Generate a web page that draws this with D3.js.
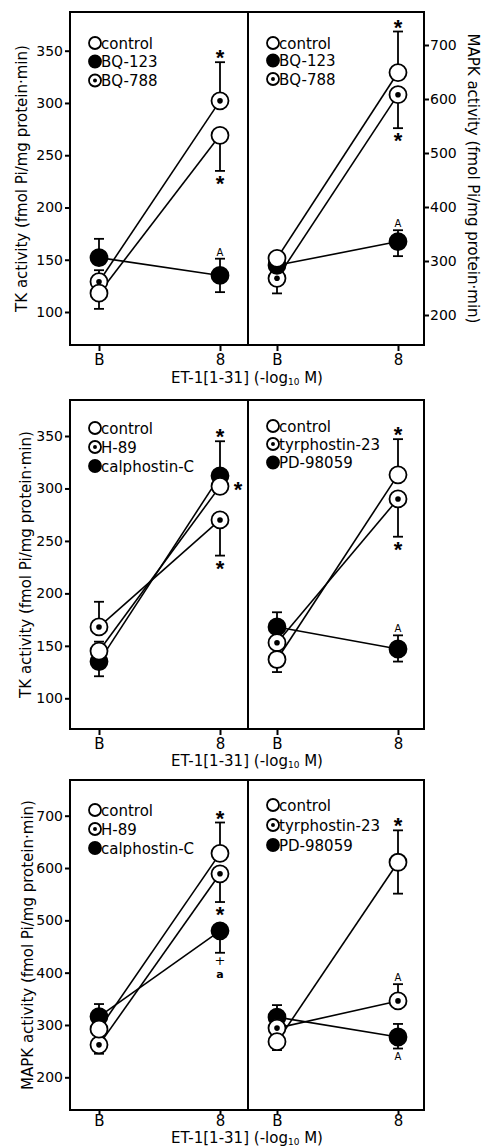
<!DOCTYPE html>
<html>
<head>
<meta charset="utf-8">
<script src="https://cdn.jsdelivr.net/npm/d3@7"></script>
<style>
	body { margin: 0; background: #fff; }
	svg { display: block; font-family: "DejaVu Sans", sans-serif; }
	text { fill: #000; }
</style>
</head>
<body>
<svg width="481" height="1146"></svg>
<script>
// ---- data ----
const doses = [ "B", "8" ];
const tkTicks = [ 100, 150, 200, 250, 300, 350 ];
const mapkTicks = [ 200, 300, 400, 500, 600, 700 ];
const tkLabel = "TK activity (fmol Pi/mg protein\u00b7min)";
const mapkLabel = "MAPK activity (fmol Pi/mg protein\u00b7min)";

// mean at [B, 8]; hi / lo = end of error bar (null = not drawn); notes = significance marks
const tkReceptor = [
	{ name: "control", mark: "open", mean: [ 118, 269 ], hi: [ null, null ], lo: [ 103, 235 ], notes: [ { at: 1, text: "*", side: "lo" } ] },
	{ name: "BQ-123", mark: "filled", mean: [ 152, 135 ], hi: [ 170, 151 ], lo: [ null, 119 ], notes: [ { at: 1, text: "A", side: "hi" } ] },
	{ name: "BQ-788", mark: "dot", mean: [ 129, 302 ], hi: [ 140, 339 ], lo: [ null, null ], notes: [ { at: 1, text: "*", side: "hi" } ] }
];
const mapkReceptor = [
	{ name: "control", mark: "open", mean: [ 305, 649 ], hi: [ 316, 725 ], lo: [ null, null ], notes: [ { at: 1, text: "*", side: "hi" } ] },
	{ name: "BQ-123", mark: "filled", mean: [ 292, 336 ], hi: [ null, 357 ], lo: [ null, 309 ], notes: [ { at: 1, text: "A", side: "hi" } ] },
	{ name: "BQ-788", mark: "dot", mean: [ 268, 608 ], hi: [ null, null ], lo: [ 240, 546 ], notes: [ { at: 1, text: "*", side: "lo" } ] }
];
const tkKinase = [
	{ name: "control", mark: "open", mean: [ 145, 302 ], hi: [ 154, null ], lo: [ null, null ], notes: [ { at: 1, text: "*", side: "right" } ] },
	{ name: "H-89", mark: "dot", mean: [ 168, 270 ], hi: [ 192, null ], lo: [ null, 236 ], notes: [ { at: 1, text: "*", side: "lo" } ] },
	{ name: "calphostin-C", mark: "filled", mean: [ 135, 312 ], hi: [ null, 345 ], lo: [ 121, null ], notes: [ { at: 1, text: "*", side: "hi" } ] }
];
const tkTyrosine = [
	{ name: "control", mark: "open", mean: [ 137, 313 ], hi: [ null, 347 ], lo: [ 125, null ], notes: [ { at: 1, text: "*", side: "hi" } ] },
	{ name: "tyrphostin-23", mark: "dot", mean: [ 153, 290 ], hi: [ null, null ], lo: [ null, 254 ], notes: [ { at: 1, text: "*", side: "lo" } ] },
	{ name: "PD-98059", mark: "filled", mean: [ 168, 147 ], hi: [ 182, 160 ], lo: [ null, 135 ], notes: [ { at: 1, text: "A", side: "hi" } ] }
];
const mapkKinase = [
	{ name: "control", mark: "open", mean: [ 292, 628 ], hi: [ null, 687 ], lo: [ null, null ], notes: [ { at: 1, text: "*", side: "hi" } ] },
	{ name: "H-89", mark: "dot", mean: [ 262, 589 ], hi: [ null, null ], lo: [ 245, 535 ], notes: [ { at: 1, text: "*", side: "lo" } ] },
	{ name: "calphostin-C", mark: "filled", mean: [ 316, 480 ], hi: [ 340, null ], lo: [ null, 438 ], notes: [ { at: 1, text: "+", side: "lo" }, { at: 1, text: "a", side: "lo" } ] }
];
const mapkTyrosine = [
	{ name: "control", mark: "open", mean: [ 268, 611 ], hi: [ null, 672 ], lo: [ 252, 551 ], notes: [ { at: 1, text: "*", side: "hi" } ] },
	{ name: "tyrphostin-23", mark: "dot", mean: [ 294, 346 ], hi: [ null, 378 ], lo: [ null, null ], notes: [ { at: 1, text: "A", side: "hi" } ] },
	{ name: "PD-98059", mark: "filled", mean: [ 315, 277 ], hi: [ 338, 302 ], lo: [ null, 255 ], notes: [ { at: 1, text: "A", side: "lo" } ] }
];

// ---- layout ----
const svg = d3.select( "svg" );
const R = 8.5, CAP = 5;
const rows = [
	{ top: 12, bottom: 345, title: 383, tick: 6, pad: 3 },
	{ top: 400, bottom: 729, title: 766, tick: 6, pad: 3 },
	{ top: 780, bottom: 1110, title: 1143, tick: 4, pad: 1 }
];
const cols = [
	{ x0: 70, x1: 248, range: [ 99, 220 ], legendX: 95 },
	{ x0: 248, x1: 424, range: [ 277, 398 ], legendX: 273 }
];
// y scales calibrated on two tick positions of each axis
const yTK1 = d3.scaleLinear().domain( [ 100, 350 ] ).range( [ 312, 50.7 ] );
const yMAPK1 = d3.scaleLinear().domain( [ 200, 700 ] ).range( [ 315, 45 ] );
const yTK2 = d3.scaleLinear().domain( [ 100, 350 ] ).range( [ 698.3, 436 ] );
const yMAPK3 = d3.scaleLinear().domain( [ 200, 700 ] ).range( [ 1077.3, 815.7 ] );

const panels = [
	{ row: 0, col: 0, series: tkReceptor, y: yTK1, ticks: tkTicks, axis: "left", label: tkLabel, labelX: 27, legendY: [ 43, 61.5, 80.5 ] },
	{ row: 0, col: 1, series: mapkReceptor, y: yMAPK1, ticks: mapkTicks, axis: "right", label: mapkLabel, labelX: 468, legendY: [ 43, 60.5, 79 ] },
	{ row: 1, col: 0, series: tkKinase, y: yTK2, ticks: tkTicks, axis: "left", label: tkLabel, labelX: 31, legendY: [ 428, 447, 466 ] },
	{ row: 1, col: 1, series: tkTyrosine, y: yTK2, legendY: [ 426, 444, 462.5 ] },
	{ row: 2, col: 0, series: mapkKinase, y: yMAPK3, ticks: mapkTicks, axis: "left", label: mapkLabel, labelX: 33, legendY: [ 810, 829, 848 ] },
	{ row: 2, col: 1, series: mapkTyrosine, y: yMAPK3, legendY: [ 805, 825, 845 ] }
];

function marker ( g, type, cx, cy, r ) {
	g.append( "circle" )
		.attr( "cx", cx ).attr( "cy", cy ).attr( "r", r )
		.attr( "fill", type === "filled" ? "#000" : "#fff" )
		.attr( "stroke", "#000" )
		.attr( "stroke-width", 1.8 );
	if ( type === "dot" ) {
		g.append( "circle" )
			.attr( "cx", cx ).attr( "cy", cy ).attr( "r", r * 0.33 )
			.attr( "fill", "#000" );
	}
}

function drawPanel ( p ) {
	let row = rows[ p.row ], col = cols[ p.col ], y = p.y;
	let x = d3.scalePoint().domain( doses ).range( col.range );
	let g = svg.append( "g" ).attr( "class", "panel" );

	// frame
	g.append( "rect" )
		.attr( "x", col.x0 ).attr( "y", row.top )
		.attr( "width", col.x1 - col.x0 ).attr( "height", row.bottom - row.top )
		.attr( "fill", "none" ).attr( "stroke", "#000" ).attr( "stroke-width", 2 );

	// x axis
	let ax = g.append( "g" )
		.attr( "transform", "translate(0," + row.bottom + ")" )
		.call( d3.axisBottom( x ).tickSize( row.tick ).tickPadding( row.pad ) );
	ax.select( ".domain" ).remove();
	ax.attr( "font-size", 15 ).attr( "font-family", null );
	ax.selectAll( "line" ).attr( "stroke-width", 2 );

	// y axis
	if ( p.axis ) {
		let left = p.axis === "left";
		let ay = g.append( "g" )
			.attr( "transform", "translate(" + ( left ? col.x0 : col.x1 ) + ",0)" )
			.call( ( left ? d3.axisLeft( y ) : d3.axisRight( y ) ).tickValues( p.ticks ).tickSize( 5 ).tickPadding( left ? 2 : 1 ) );
		ay.select( ".domain" ).remove();
		ay.attr( "font-size", 14 ).attr( "font-family", null );
		ay.selectAll( "line" ).attr( "stroke-width", 2 );

		g.append( "text" )
			.attr( "transform", "translate(" + p.labelX + "," + ( row.top + row.bottom ) / 2 + ") rotate(" + ( left ? -90 : 90 ) + ")" )
			.attr( "text-anchor", "middle" )
			.attr( "font-size", 15 )
			.text( p.label );
	}

	// connecting lines
	let line = d3.line()
		.x( ( d, i ) => x( doses[ i ] ) )
		.y( d => y( d ) );
	g.selectAll( ".line" )
		.data( p.series )
		.enter().append( "path" )
		.attr( "class", "line" )
		.attr( "d", s => line( s.mean ) )
		.attr( "fill", "none" ).attr( "stroke", "#000" ).attr( "stroke-width", 1.6 );

	// error bars
	p.series.forEach( s => {
		doses.forEach( ( dose, i ) => {
			[ s.hi[ i ], s.lo[ i ] ].forEach( end => {
				if ( end === null ) return;
				let cx = x( dose );
				g.append( "line" )
					.attr( "x1", cx ).attr( "x2", cx )
					.attr( "y1", y( s.mean[ i ] ) ).attr( "y2", y( end ) )
					.attr( "stroke", "#000" ).attr( "stroke-width", 1.8 );
				g.append( "line" )
					.attr( "x1", cx - CAP ).attr( "x2", cx + CAP )
					.attr( "y1", y( end ) ).attr( "y2", y( end ) )
					.attr( "stroke", "#000" ).attr( "stroke-width", 1.8 );
			});
		});
	});

	// markers, control drawn last
	p.series.slice().reverse().forEach( s => {
		s.mean.forEach( ( v, i ) => marker( g, s.mark, x( doses[ i ] ), y( v ), R ) );
	});

	// significance marks
	p.series.forEach( s => {
		s.notes.forEach( n => {
			let i = n.at, cx = x( doses[ i ] ), cy = y( s.mean[ i ] );
			let top = s.hi[ i ] !== null ? y( s.hi[ i ] ) : cy - R;
			let bot = s.lo[ i ] !== null ? y( s.lo[ i ] ) : cy + R;
			let t = g.append( "text" ).attr( "text-anchor", "middle" ).attr( "x", cx ).text( n.text );
			if ( n.text === "*" ) {
				t.attr( "font-family", "Liberation Sans" ).attr( "font-size", 22 ).attr( "font-weight", "bold" );
				if ( n.side === "hi" ) t.attr( "y", top + 3 );
				if ( n.side === "lo" ) t.attr( "y", bot + 20 );
				if ( n.side === "right" ) t.attr( "x", cx + 18 ).attr( "y", cy + 11 );
			} else if ( n.text === "A" ) {
				t.attr( "font-size", 10 );
				t.attr( "y", n.side === "hi" ? top - 3 : bot + 11 );
			} else if ( n.text === "+" ) {
				t.attr( "font-size", 13 ).attr( "y", bot + 12 );
			} else {
				t.attr( "font-size", 11 ).attr( "font-weight", "bold" ).attr( "y", bot + 25 );
			}
		});
	});

	// legend
	p.series.forEach( ( s, i ) => {
		let ly = p.legendY[ i ];
		marker( g, s.mark, col.legendX, ly, 6 );
		g.append( "text" )
			.attr( "x", col.legendX + 6 )
			.attr( "y", ly + 5.5 )
			.attr( "font-size", 15 )
			.text( s.name );
	});
}

panels.forEach( drawPanel );

// shared x titles
rows.forEach( row => {
	let t = svg.append( "text" )
		.attr( "x", 247 ).attr( "y", row.title )
		.attr( "text-anchor", "middle" )
		.attr( "font-size", 15 );
	t.append( "tspan" ).text( "ET-1[1-31] (-log" );
	t.append( "tspan" ).attr( "font-size", 9 ).attr( "dy", 1.5 ).text( "10" );
	t.append( "tspan" ).attr( "dy", -1.5 ).text( " M)" );
});
</script>
</body>
</html>
